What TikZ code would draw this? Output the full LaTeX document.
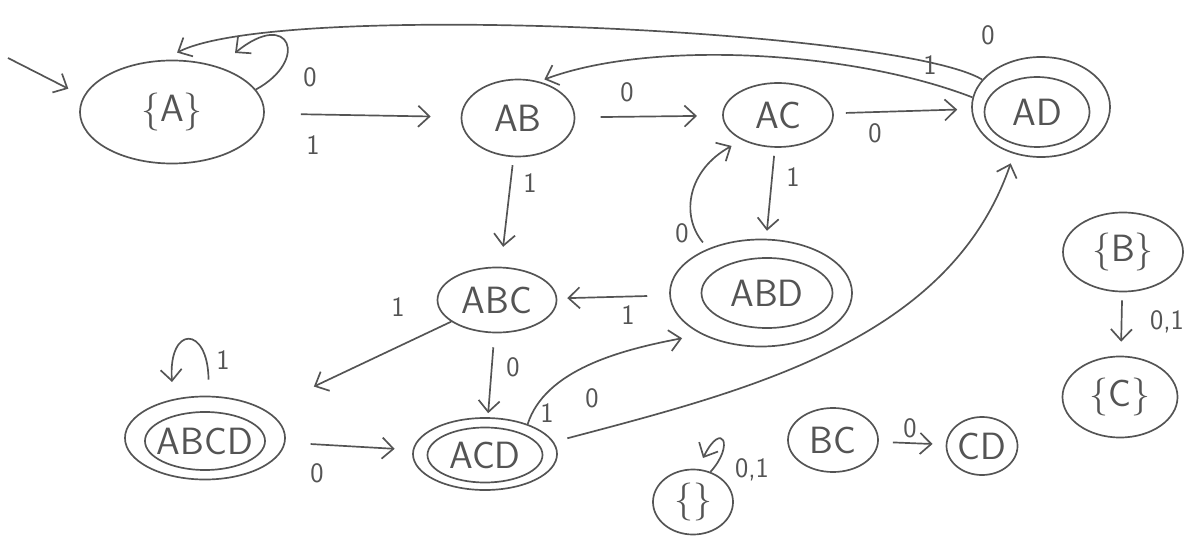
\documentclass[tikz,border=0pt]{standalone}
\usetikzlibrary{shapes.geometric,arrows.meta}
\definecolor{ink}{gray}{0.33}
\tikzset{
  state/.style={draw=ink, ellipse, line width=1.2pt, inner sep=0pt},
  every label/.style={text=ink, inner sep=0pt, font=\sffamily\fontsize{27}{27}\selectfont},
  edge/.style={draw=ink, line width=1.2pt, -{Straight Barb[length=8pt,width=15pt]}},
  lbl/.style={text=ink, font=\sffamily\fontsize{20}{20}\selectfont},
}
\begin{document}
\begin{tikzpicture}[x=0.025cm, y=-0.025cm]
\useasboundingbox (0,0) rectangle (1201,537);
% plain states
\node[state, minimum width=4.6cm, minimum height=2.575cm, label=center:{\{A\}}] (a) at (172,112) {};
\node[state, minimum width=2.825cm, minimum height=1.925cm, label=center:AB] (ab) at (518,118) {};
\node[state, minimum width=2.75cm, minimum height=1.6cm, label=center:AC] (ac) at (778,115) {};
\node[state, minimum width=2.975cm, minimum height=1.625cm, label=center:ABC] (abc) at (497,300) {};
\node[state, minimum width=3cm, minimum height=1.975cm, label=center:{\{B\}}] (b) at (1123,252) {};
\node[state, minimum width=2.875cm, minimum height=2.025cm, label=center:{\{C\}}] (c) at (1120,397) {};
\node[state, minimum width=2.25cm, minimum height=1.6cm, label=center:BC] (bc) at (833,440) {};
\node[state, minimum width=1.775cm, minimum height=1.45cm, label=center:CD] (cd) at (982,446) {};
\node[state, minimum width=2cm, minimum height=1.625cm, label=center:{\{\}}] (empty) at (693,502) {};
% accepting states: outer ring, then the labelled inner one
\node[state, minimum width=3.45cm, minimum height=2.5cm] (ad) at (1041,107) {};
\node[state, minimum width=2.625cm, minimum height=1.75cm, label=center:AD] (ad-in) at (1037,112) {};
\node[state, minimum width=4.55cm, minimum height=2.675cm] (abd) at (761,293) {};
\node[state, minimum width=3.275cm, minimum height=1.75cm, label=center:ABD] (abd-in) at (767,293) {};
\node[state, minimum width=4cm, minimum height=2.075cm] (abcd) at (205,438) {};
\node[state, minimum width=3cm, minimum height=1.45cm, label=center:ABCD] (abcd-in) at (205,441) {};
\node[state, minimum width=3.6cm, minimum height=1.8cm] (acd) at (485,454) {};
\node[state, minimum width=2.875cm, minimum height=1.375cm, label=center:ACD] (acd-in) at (485,455) {};

% free ends
\coordinate (start) at (8,58);
\coordinate (loop-a) at (235,53);
\coordinate (loop-abcd) at (172,382);
\coordinate (loop-empty) at (703,458);

% transitions
\draw[edge, shorten >=12pt] (start) -- (a.170);
\draw[edge] (a.15) .. controls (310,60) and (290,8) .. (loop-a);
\draw[edge, shorten <=0.9cm, shorten >=0.75cm] (a) -- (ab);
\draw[edge, shorten <=0.63cm, shorten >=0.63cm] (ab) -- (ac);
\draw[edge, shorten <=0.3cm, shorten >=0.35cm] (ac) -- (ad);
\draw[edge, shorten >=0.4cm] (ad.155) .. controls (900,30) and (280,0) .. (a.100);
\draw[edge, shorten >=4pt] (ad.172) .. controls (850,50) and (650,40) .. (ab.60);
\draw[edge, shorten <=0.2cm, shorten >=0.5cm] (ab) -- (abc);
\draw[edge, shorten <=0.2cm, shorten >=0.2cm] (ac) -- (abd);
\draw[edge, shorten <=0.2cm, shorten >=0.3cm] (abd.140) .. controls (680,215) and (688,170) .. (ac.215);
\draw[edge, shorten <=0.55cm, shorten >=0.25cm] (abd) -- (abc);
\draw[edge, shorten >=1.35cm] (abc) -- (abcd);
\draw[edge, shorten <=0.35cm, shorten >=0.1cm] (abc) -- (acd);
\draw[edge, shorten <=0.4cm] (abcd.85) .. controls (208,325) and (168,325) .. (loop-abcd);
\draw[edge, shorten <=0.63cm, shorten >=0.45cm] (abcd) -- (acd);
\draw[edge, shorten >=0.5cm] (acd.35) .. controls (545,370) and (620,350) .. (abd.215);
\draw[edge, shorten <=0.35cm, shorten >=0.25cm] (acd.10) .. controls (750,390) and (950,340) .. (ad.240);
\draw[edge] (empty.60) .. controls (735,445) and (722,420) .. (loop-empty);
\draw[edge, shorten <=0.35cm, shorten >=0.33cm] (bc) -- (cd);
\draw[edge, shorten <=0.2cm, shorten >=0.35cm] (b) -- (c);

% input symbols
\node[lbl] (s-a-a) at (310,77) {0};
\node[lbl] (s-a-ab) at (313,145) {1};
\node[lbl] (s-ab-ac) at (627,92) {0};
\node[lbl] (s-ac-ad) at (875,133) {0};
\node[lbl] (s-ad-a) at (988,35) {0};
\node[lbl] (s-ad-ab) at (930,65) {1};
\node[lbl] (s-ab-abc) at (530,183) {1};
\node[lbl] (s-ac-abd) at (793,177) {1};
\node[lbl] (s-abd-ac) at (682,233) {0};
\node[lbl] (s-abd-abc) at (628,315) {1};
\node[lbl] (s-abc-abcd) at (398,307) {1};
\node[lbl] (s-abc-acd) at (513,367) {0};
\node[lbl] (s-abcd) at (223,360) {1};
\node[lbl] (s-abcd-acd) at (317,473) {0};
\node[lbl] (s-acd-abd) at (547,413) {1};
\node[lbl] (s-acd-ad) at (592,398) {0};
\node[lbl] (s-empty) at (752,470) {0,1};
\node[lbl] (s-bc-cd) at (910,428) {0};
\node[lbl] (s-b-c) at (1167,322) {0,1};
\end{tikzpicture}
\end{document}
